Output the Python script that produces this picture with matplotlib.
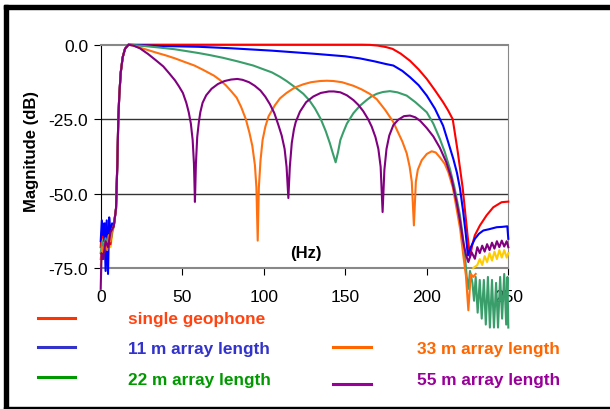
import numpy as np
import matplotlib
matplotlib.use("Agg")
import matplotlib.pyplot as plt
from matplotlib.lines import Line2D
from matplotlib.patches import Rectangle

plt.rcParams["font.family"] = ["Liberation Sans", "DejaVu Sans"]

# shared low-cut rise (Hz, dB)
rise_f = [8, 9.4, 10.2, 10.8, 11.4, 12.3, 13.5, 14.9, 17]
rise_db = [-61, -55, -40, -25, -17, -9.3, -4.2, -1.4, 0]

# single geophone
red_lo_f = [0, 1, 2, 3, 4, 5, 6, 7]
red_lo_db = [-68, -61, -66, -60, -66, -61, -67, -62]
red_f = [30, 60, 120, 160, 165, 170, 175, 179, 184, 189.7, 195, 200, 205, 210,
         213, 215.9, 219, 222, 223.5, 225, 226.5, 228, 229.5, 232.6, 236.7,
         240.8, 245.9, 250]
red_db = [0, 0, 0, 0, -0.05, -0.3, -0.8, -1.4, -3.0, -5.4, -8.3, -11.5, -15.3,
          -19.3, -22.0, -25, -36, -48, -56, -64, -71.3, -67, -64, -60.7, -57.3,
          -54.6, -52.9, -52.7]

# 11 m array
blue_lo_f = [0, 0.7, 1.5, 2.2, 3, 3.7, 4.5, 5.2, 6, 7]
blue_lo_db = [-66, -59, -64, -60, -76, -59, -77, -58, -64, -60]
blue_f = [25, 35, 60, 80, 105, 130, 150, 159, 168, 175, 179.5, 185, 189.7, 195,
          200, 205, 210, 213, 216.3, 218.5, 220.4, 222.3, 224, 225.2, 227,
          229.5, 232, 234.7, 238, 242.9, 246, 249.4, 250]
blue_db = [-0.2, -0.4, -0.7, -1.2, -2.0, -3.0, -3.9, -4.6, -5.6, -6.5, -7.0,
           -8.8, -10.9, -13.6, -17.1, -21.5, -27.2, -32.5, -38.4, -43, -48.4,
           -56, -64, -70.8, -68, -65.2, -63.5, -62.4, -62, -61.3, -61.2, -61,
           -65.2]

# 22 m array
green_lo_f = [0, 1, 2, 3, 4, 5, 6, 7]
green_lo_db = [-70, -66, -69, -65, -68, -64, -66, -63]
green_f = [24, 35, 45, 52, 60, 67, 75, 84, 93.6, 100, 105, 110, 114, 119, 124.3,
           128, 131.5, 135, 138, 140.5, 142.4, 144.1, 145.6, 147, 148.8, 151,
           155, 159, 163.1, 166, 169.3, 173, 177.4, 182, 187.7, 193, 200, 204,
           208, 211, 214.2, 217, 220.4, 222, 223.4,
           224.5, 225.5, 226.5, 228, 229, 230, 231.2, 232.5, 233.7, 235, 236.2,
           237.5, 238.7, 240, 241.2, 242.5, 243.7, 245, 246.2, 247.5, 248.7,
           249.5, 250]
green_db = [-0.3, -0.9, -1.5, -2.1, -2.8, -3.5, -4.4, -5.6, -7.0, -8.3, -9.3,
            -10.8, -12.2, -14.2, -16.5, -18.7, -21.5, -25, -29, -33, -36.5,
            -39.5, -36, -32, -29.4, -26.5, -23, -20.5, -18.6, -17.4, -16.5,
            -15.9, -15.6, -16, -17.1, -19.3, -22.7, -26.5, -31.6, -36, -41.7,
            -48, -57.4, -64, -70.8,
            -78, -82, -76, -80, -86, -78, -90, -79, -92, -79, -94, -78, -95,
            -79, -95, -80, -95, -78, -92, -77, -94, -78, -95]

# 33 m array
orange_lo_f = [0, 1, 2, 3, 4, 5, 6, 7]
orange_lo_db = [-72, -68, -70, -66, -69, -64, -66, -62]
orange_f = [20, 24, 29, 33.7, 40, 45.6, 51, 57.5, 63, 69.5, 73, 76.7, 80, 83.4,
            86.2, 89, 91.2, 93, 94.6, 95.5, 96.3, 97, 98, 99.3, 101, 103, 106.9,
            110, 114, 119, 124.3, 129, 134.5, 138.7, 142.7, 148, 155, 160, 165,
            169.3, 174.6, 179.5, 182, 185, 187.7, 189.5, 190.8, 192.1, 193.3,
            194.5, 196.9, 200, 203, 205.5, 208, 211, 213.2, 216, 218.3, 220.5,
            222.4, 224, 225.5, 227, 228.5, 230]
orange_db = [-0.3, -1.0, -1.8, -2.6, -3.6, -4.6, -5.7, -7.0, -8.5, -10.4, -11.8,
             -13.6, -15.6, -17.8, -21, -25, -29.5, -34, -40.5, -48, -65.8, -48,
             -39, -32, -27.5, -24, -20.3, -18, -16.2, -14.4, -13.3, -12.6,
             -12.2, -12.1, -12.2, -12.6, -13.8, -15, -16.5, -18.3, -22, -26,
             -29, -32.5, -36.5, -41, -46, -60.7, -46, -42, -38.8, -36.7, -35.8,
             -36.2, -37.8, -40, -42.8, -48, -55.1, -62, -70.8, -77.5, -89.2, -77,
             -78, -77]

# 55 m array
purple_lo_f = [0, 0.5, 1.5, 3, 4.5, 6, 7]
purple_lo_db = [-82, -70, -72, -66, -68, -63, -62]
purple_f = [20, 24, 29, 34, 38.4, 42, 45.6, 48, 50.4, 52.5, 54, 55.3, 56.4, 57.2,
            57.8, 58.4, 59.2, 60.2, 61.1, 62.5, 64.7, 68, 71.9, 76, 80, 83.8, 87,
            91, 94.5, 98, 101, 103.8, 106.5, 109, 111, 112.8, 114, 115.1, 116,
            117.2, 118.5, 119.6, 122.2, 126, 130.4, 135, 140, 143, 147, 151, 155,
            158, 161, 164, 166.2, 168.5, 170.3, 171.7, 172.9, 174, 175.3, 177,
            179.5, 182.5, 186, 189.7, 193, 196, 200, 204, 208, 212, 215.2, 218.3,
            220.5, 222.4, 224, 225.5, 227.5, 229.5, 231, 232.5, 234, 235.5, 237,
            238.5, 240, 241.5, 243, 244.5, 246, 247.5, 249, 250]
purple_db = [-0.3, -1.2, -3.1, -5.3, -7.3, -9.6, -12, -14, -16.2, -19.5, -22.7,
             -26.5, -32, -40, -52.8, -40, -31, -26, -22.7, -19.5, -17, -14.8,
             -13.2, -12.2, -11.7, -11.5, -11.8, -12.6, -13.8, -15.4, -17.5, -20,
             -23, -27, -30.5, -35, -41, -51.5, -41, -33, -28.5, -26, -22.5,
             -19.3, -17.4, -16.2, -15.7, -15.7, -16, -17, -18.6, -20.2, -22.3,
             -25, -27.5, -31, -35, -41, -56.2, -42, -35, -30.5, -27, -25.2, -24,
             -23.8, -24.4, -25.6, -28, -30.8, -34.6, -39.5, -45, -52.9, -59.5,
             -66.3, -70.5, -73, -69.7, -71.9, -68, -70, -67.5, -69.5, -67, -69,
             -66.5, -68.5, -66, -68, -65.8, -67.8, -66, -68]

# unlabeled yellow trace (only visible at both ends)
yellow_f = [0, 1, 2, 3, 4, 5, 6, 7, 8, np.nan, 228.5, 231, 232.5, 234, 235.5,
            237, 238.5, 240, 241.5, 243, 244.5, 246, 247.5, 249, 250]
yellow_db = [-74, -70, -72, -69, -71, -67, -68, -64, -61, np.nan, -75, -74, -72,
             -74, -71, -73, -70, -72.5, -69.5, -72, -69, -71.5, -69, -71.5, -70]

x_ticks = [0, 50, 100, 150, 200, 250]
y_ticks = [0, -25, -50, -75]
y_tick_labels = ["0.0", "-25.0", "-50.0", "-75.0"]

W, H = 610, 410


def fx(px):
    return px / W


def fy(py):
    return 1 - py / H


fig = plt.figure(figsize=(6.1, 4.1), dpi=100)
ax = fig.add_axes([fx(100.7), fy(269), (508.3 - 100.7) / W, (269 - 45.7) / H])

series = [
    (yellow_f, yellow_db, "#FFCC00"),
    (red_lo_f + rise_f + red_f, red_lo_db + rise_db + red_db, "#FF0000"),
    (blue_lo_f + rise_f + blue_f, blue_lo_db + rise_db + blue_db, "#0000FF"),
    (green_lo_f + rise_f + green_f, green_lo_db + rise_db + green_db, "#3A9E6B"),
    (orange_lo_f + rise_f + orange_f, orange_lo_db + rise_db + orange_db, "#FF7010"),
    (purple_lo_f + rise_f + purple_f, purple_lo_db + rise_db + purple_db, "#800080"),
]
for f, db, c in series:
    ax.plot(f, db, color=c, lw=1.5, clip_on=False, zorder=3)

ax.set_xlim(0, 250)
ax.set_ylim(-75, 0)
for yv in [-25, -50]:
    ax.axhline(yv, color="#333333", lw=1, zorder=1)
ax.spines["left"].set_color("black")
for s in ["top", "right", "bottom"]:
    ax.spines[s].set_color("#888888")
ax.spines["top"].set_linewidth(1.5)
ax.spines["bottom"].set_linewidth(1.5)

ax.set_xticks(x_ticks)
ax.set_yticks(y_ticks)
ax.set_yticklabels(y_tick_labels)
ax.tick_params(axis="x", direction="out", length=5, pad=10, labelsize=12.5)
ax.tick_params(axis="y", direction="out", length=5, pad=4, labelsize=12.5)

fig.text(fx(31.5), fy(152), "Magnitude (dB)", rotation=90, ha="center",
         va="center", fontsize=12, fontweight="bold")
fig.text(fx(306), fy(253.5), "(Hz)", ha="center", va="center", fontsize=12,
         fontweight="bold")

# legend drawn by hand
legend_items = [
    (38, 75, 319.3, 128, 319.5, "single geophone", "#FF3300", "#FF4411"),
    (38, 75, 348.3, 128, 350, "11 m array length", "#3333CC", "#3333CC"),
    (38, 75, 378.3, 128, 381, "22 m array length", "#009900", "#009900"),
    (333, 371, 347.8, 417, 350, "33 m array length", "#FF6600", "#FF6600"),
    (333, 371, 385, 417, 381, "55 m array length", "#990099", "#990099"),
]
for x0, x1, ly, tx, ty, label, lc, tc in legend_items:
    fig.add_artist(Line2D([fx(x0), fx(x1)], [fy(ly), fy(ly)], color=lc, lw=2.2,
                          transform=fig.transFigure))
    fig.text(fx(tx), fy(ty), label, color=tc, ha="left", va="center",
             fontsize=12.4, fontweight="bold")

# outer frame
fig.add_artist(Rectangle((fx(4), 0), fx(4), fy(6), color="black",
                         transform=fig.transFigure))
fig.add_artist(Rectangle((fx(4), fy(10)), 1, 4 / H, color="black",
                         transform=fig.transFigure))
fig.add_artist(Rectangle((fx(4), fy(409.5)), 1, 1.2 / H, color="black",
                         transform=fig.transFigure))

fig.savefig("out.png", dpi=100)
